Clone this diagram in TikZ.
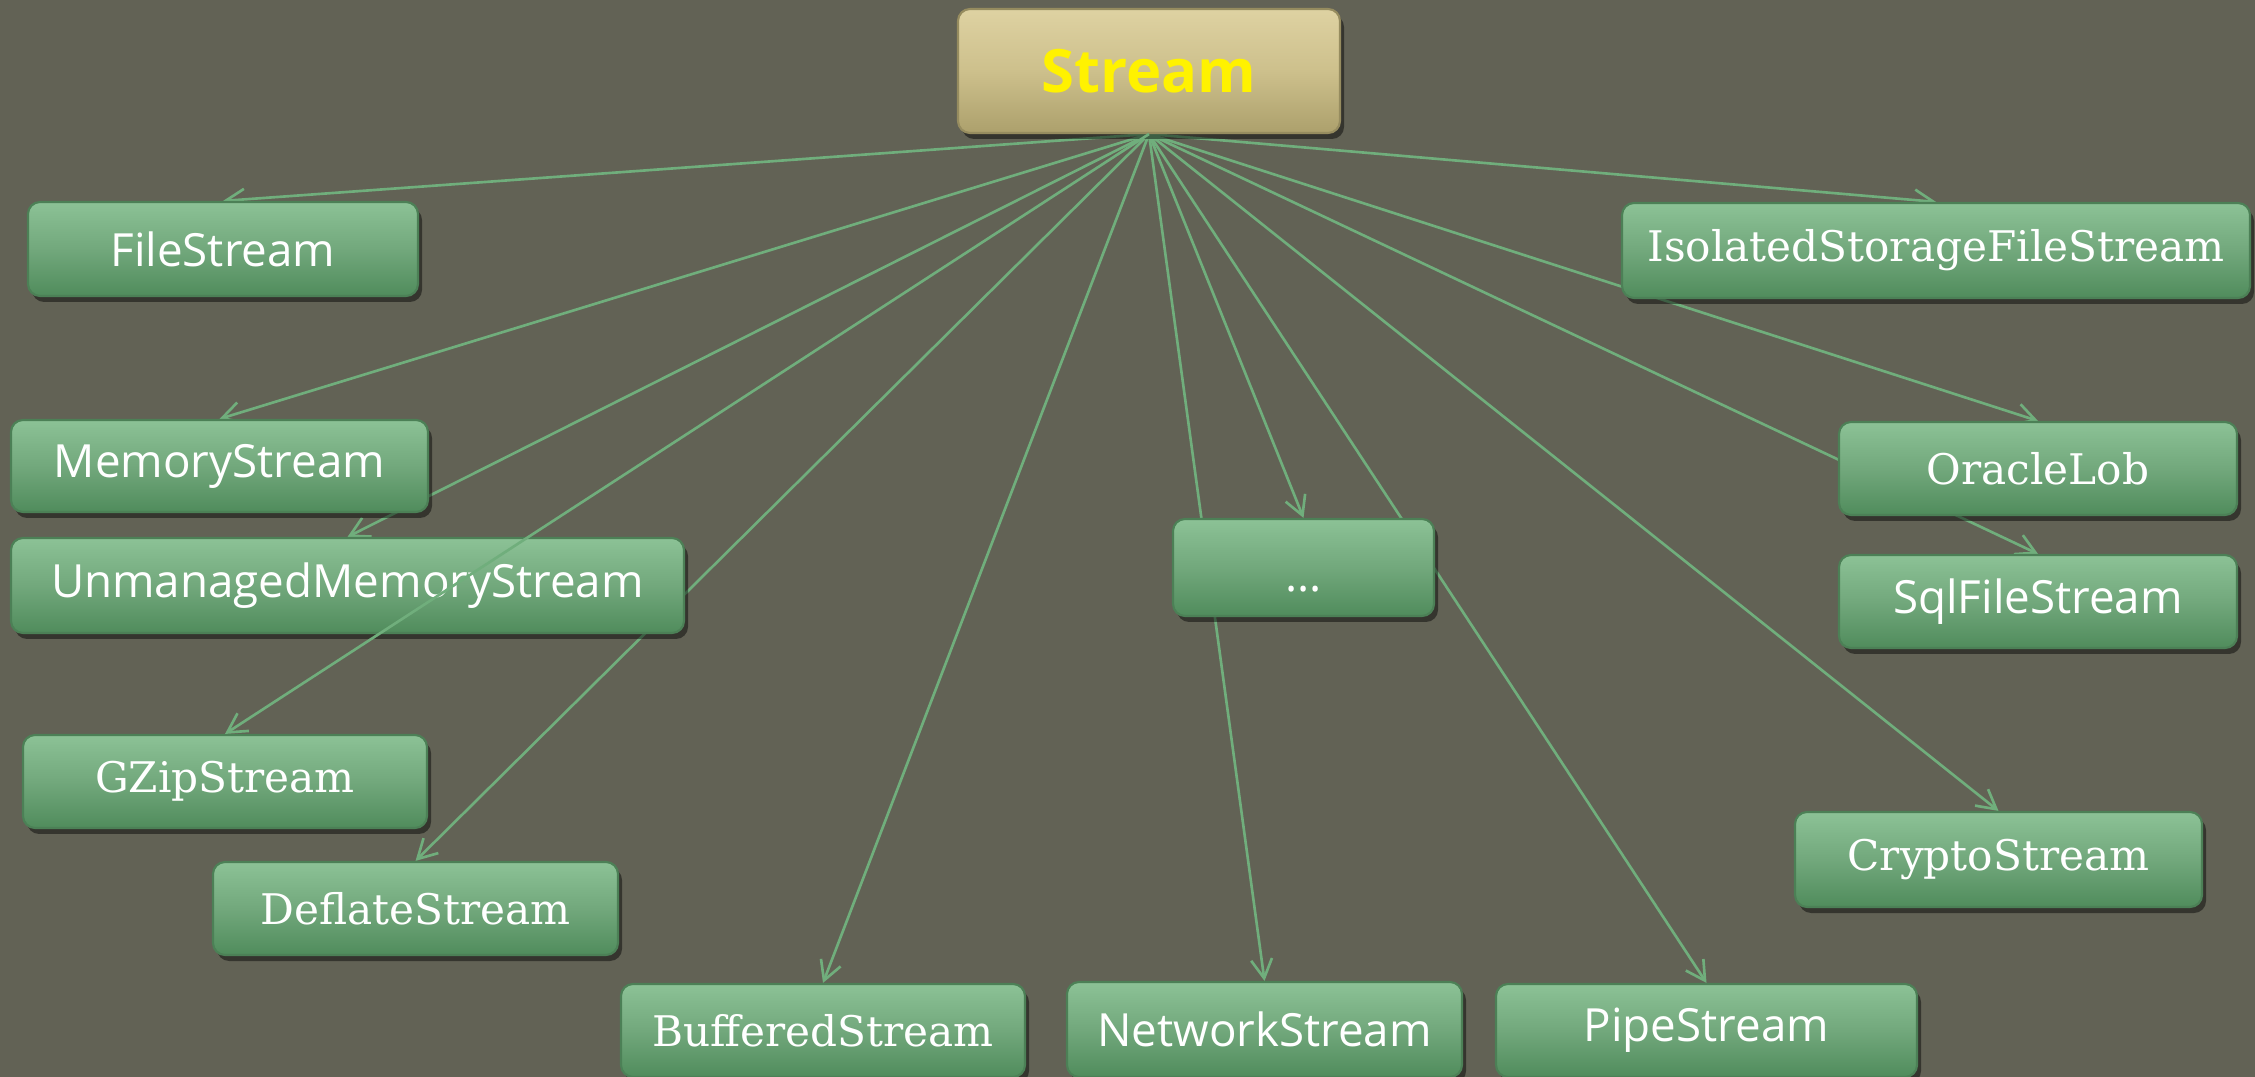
\documentclass[tikz,border=0pt]{standalone}
\usepackage{fontspec}
\usetikzlibrary{arrows.meta,shadows}
\newfontfamily\sansf{Open Sans}
\newfontfamily\slabf{DejaVu Serif}
\definecolor{bgc}{RGB}{98,98,85}
\definecolor{linec}{RGB}{112,174,124}
\definecolor{gtop}{RGB}{140,194,150}
\definecolor{gmid}{RGB}{114,168,124}
\definecolor{gbot}{RGB}{80,140,92}
\definecolor{gdraw}{RGB}{76,128,86}
\definecolor{ttop}{RGB}{222,210,162}
\definecolor{tmid}{RGB}{205,192,140}
\definecolor{tbot}{RGB}{172,160,108}
\definecolor{tdraw}{RGB}{150,140,95}
\pgfdeclarelayer{bg}
\pgfdeclarelayer{lines}
\pgfsetlayers{bg,lines,main}
\begin{document}
\begin{tikzpicture}[x=0.01cm,y=-0.01cm,
  box/.style 2 args={rounded corners=0.12cm, minimum width=#1*0.01cm, minimum height=#2*0.01cm,
    inner sep=0pt, top color=gtop, bottom color=gbot, middle color=gmid, draw=gdraw, line width=0.6pt,
    text=white, drop shadow={shadow xshift=0.4mm, shadow yshift=-0.6mm, opacity=0.45, fill=black}},
  sans/.style={font=\sansf\fontsize{13pt}{15pt}\selectfont},
  slab/.style={font=\slabf\fontsize{12pt}{14pt}\selectfont},
  root/.style={top color=ttop, bottom color=tbot, middle color=tmid, draw=tdraw, text=yellow,
    font=\sansf\bfseries\fontsize{17pt}{20pt}\selectfont},
  arr/.style={draw=linec, line width=0.75pt, -{Straight Barb[length=0.19cm,width=0.21cm]}}]
\useasboundingbox (0,0) rectangle (2255,1077);
\begin{pgfonlayer}{bg}
\fill[bgc] (0,0) rectangle (2255,1077);
\end{pgfonlayer}

\node[box={382}{124}, root] (S) at (1149,71) {Stream};

\node[box={390}{94}, sans] (FS) at (223,249) {FileStream};
\node[box={417}{92}, sans] (MS) at (219.5,466) {MemoryStream};
\node[box={673}{95}, sans] (UMS) at (347.5,585.5) {UnmanagedMemoryStream};
\node[box={404}{93}, slab] (GZ) at (225,781.5) {GZipStream};
\node[box={405}{93}, slab] (DF) at (415.5,908.5) {DeflateStream};
\node[box={404}{93}, slab] (BS) at (823,1030.5) {BufferedStream};
\node[box={395}{95}, sans] (NS) at (1264.5,1029.5) {NetworkStream};
\node[box={421}{93}, sans] (PS) at (1706.5,1030.5) {PipeStream};
\node[box={261}{97}, sans] (DOTS) at (1303.5,567.5) {\raisebox{-2ex}{...}};
\node[box={628}{95}, slab] (ISFS) at (1936,250.5) {IsolatedStorageFileStream};
\node[box={398}{93}, slab] (OL) at (2038,468.5) {OracleLob};
\node[box={398}{93}, sans] (SQL) at (2038,601.5) {SqlFileStream};
\node[box={407}{95}, slab] (CS) at (1998.5,859.5) {CryptoStream};

\begin{pgfonlayer}{lines}
\draw[arr] (S.south) -- (FS.north);
\draw[arr] (S.south) -- (MS.north);
\draw[arr] (S.south) -- (UMS.north);
\draw[arr] (S.south) -- (DF.north);
\draw[arr] (S.south) -- (BS.north);
\draw[arr] (S.south) -- (NS.north);
\draw[arr] (S.south) -- (PS.north);
\draw[arr] (S.south) -- (DOTS.north);
\draw[arr] (S.south) -- (ISFS.north);
\draw[arr] (S.south) -- (OL.north);
\draw[arr] (S.south) -- (SQL.north);
\draw[arr] (S.south) -- (CS.north);
\end{pgfonlayer}
\draw[arr] (S.south) -- (GZ.north);
\end{tikzpicture}
\end{document}
